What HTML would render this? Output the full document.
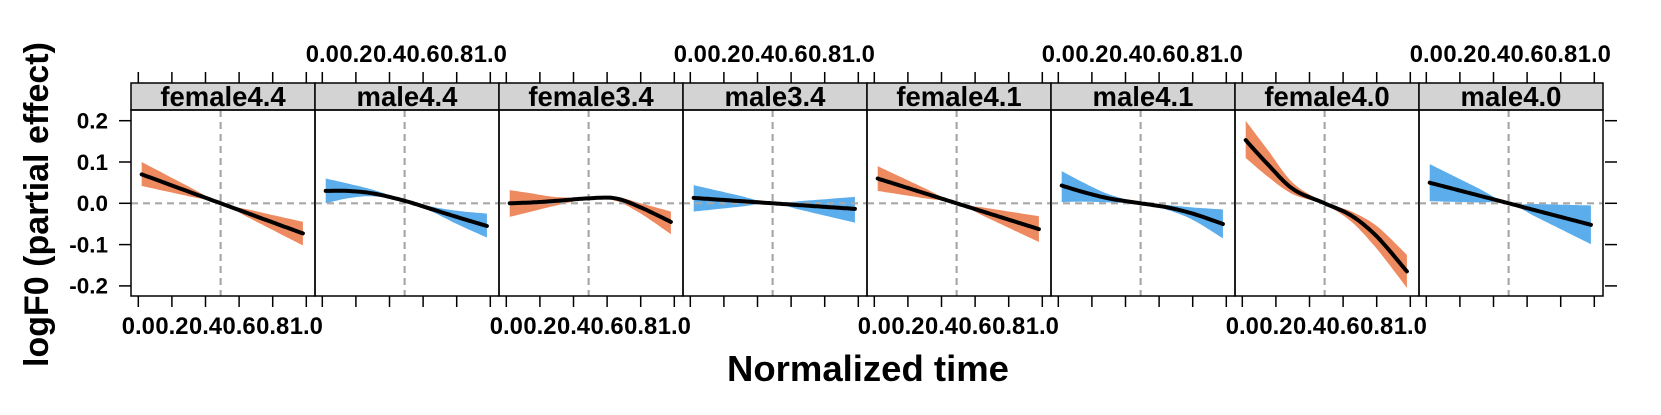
<!DOCTYPE html>
<html><head><meta charset="utf-8"><style>
html,body{margin:0;padding:0;background:#fff;}
svg{display:block;font-family:"Liberation Sans",sans-serif;font-weight:bold;}
</style></head><body>
<svg id="s" width="1661" height="415" viewBox="0 0 1661 415" xmlns="http://www.w3.org/2000/svg">
<g id="g"></g>
<text x="37" y="204.5" font-size="34" text-anchor="middle" dominant-baseline="central" transform="rotate(-90 37 204.5)">logF0 (partial effect)</text>
<text x="868" y="381" font-size="36.5" text-anchor="middle">Normalized time</text>
<g font-size="22.5" text-anchor="end">
<text x="108" y="128.5">0.2</text>
<text x="108" y="169.8">0.1</text>
<text x="108" y="211.1">0.0</text>
<text x="108" y="252.4">-0.1</text>
<text x="108" y="293.7">-0.2</text>
</g>
<g font-size="27.5" text-anchor="middle">
<text x="223" y="106">female4.4</text>
<text x="407" y="106">male4.4</text>
<text x="591" y="106">female3.4</text>
<text x="775" y="106">male3.4</text>
<text x="959" y="106">female4.1</text>
<text x="1143" y="106">male4.1</text>
<text x="1327" y="106">female4.0</text>
<text x="1511" y="106">male4.0</text>
</g>
<g id="lab" font-size="23.8" text-anchor="middle"></g>
</svg>
<script>
var NS="http://www.w3.org/2000/svg",g=document.getElementById('g'),lab=document.getElementById('lab');
function el(t,a,p){var e=document.createElementNS(NS,t);for(var k in a)e.setAttribute(k,a[k]);(p||g).appendChild(e);return e;}
var L=131,W=184,T=110,B=296,Z=203.3,S=413;
function Y(v){return Z-v*S;}
var OR="#EE8A60",BL="#5BADEB";
var TT=[0.02,0.15,0.3,0.49,0.65,0.8,0.98];
function lin(a,b){return TT.map(function(t){var u=(t-0.49)/0.47;return u<0?-u*a:u*b;});}
var P=[
 {c:OR,m:lin(0.07,-0.07),u:lin(0.1,-0.043),l:lin(0.042,-0.098)},
 {c:BL,m:[0.030,0.030,0.024,0.006,-0.014,-0.033,-0.055],u:[0.06,0.048,0.033,0.008,-0.008,-0.018,-0.025],l:[0.0,0.012,0.017,0.004,-0.02,-0.05,-0.083]},
 {c:OR,m:[0.0,0.002,0.006,0.012,0.012,-0.01,-0.045],u:[0.032,0.024,0.015,0.014,0.016,0.0,-0.02],l:[-0.033,-0.02,-0.005,0.01,0.006,-0.025,-0.075]},
 {c:BL,m:lin(0.013,-0.013),u:lin(0.044,0.015),l:lin(-0.02,-0.045)},
 {c:OR,m:lin(0.06,-0.06),u:lin(0.09,-0.03),l:lin(0.03,-0.09)},
 {c:BL,m:[0.043,0.027,0.012,0.0,-0.01,-0.025,-0.05],u:[0.078,0.05,0.022,0.002,-0.004,-0.01,-0.015],l:[0.003,0.004,0.002,-0.002,-0.016,-0.04,-0.085]},
 {c:OR,m:[0.153,0.095,0.035,0.0,-0.03,-0.08,-0.165],u:[0.2,0.13,0.05,0.003,-0.02,-0.055,-0.125],l:[0.11,0.065,0.022,-0.003,-0.045,-0.11,-0.205]},
 {c:BL,m:lin(0.05,-0.05),u:lin(0.095,-0.005),l:lin(0.005,-0.095)}
];
function interp(arr,t){
 var i=0;while(i<TT.length-2&&t>TT[i+1])i++;
 var t0=TT[i],t1=TT[i+1],s=(t-t0)/(t1-t0);
 var p0=arr[Math.max(i-1,0)],p1=arr[i],p2=arr[i+1],p3=arr[Math.min(i+2,arr.length-1)];
 var ta0=TT[Math.max(i-1,0)],ta3=TT[Math.min(i+2,TT.length-1)];
 var m1=(p2-p0)/(t1-ta0||1)*(t1-t0),m2=(p3-p1)/(ta3-t0||1)*(t1-t0);
 var h00=2*s*s*s-3*s*s+1,h10=s*s*s-2*s*s+s,h01=-2*s*s*s+3*s*s,h11=s*s*s-s*s;
 return h00*p1+h10*m1+h01*p2+h11*m2;
}
for(var k=0;k<8;k++){
 var x0=L+k*W,ox=x0+7.3,X=function(t){return ox+t*168;};
 var p=P[k],N=60,up=[],lo=[],mn=[];
 for(var j=0;j<=N;j++){var t=0.02+0.96*j/N;
  up.push(X(t).toFixed(1)+","+Y(interp(p.u,t)).toFixed(1));
  lo.push(X(t).toFixed(1)+","+Y(interp(p.l,t)).toFixed(1));
  mn.push(X(t).toFixed(1)+","+Y(interp(p.m,t)).toFixed(1));}
 el('polygon',{points:up.concat(lo.reverse()).join(" "),fill:p.c});
 el('line',{x1:X(0.49),x2:X(0.49),y1:T,y2:B,stroke:"#a8a8a8","stroke-width":2.2,"stroke-dasharray":"7,5"});
 el('line',{x1:x0,x2:x0+W,y1:Z,y2:Z,stroke:"#a8a8a8","stroke-width":2.2,"stroke-dasharray":"7,5"});
 el('polyline',{points:mn.join(" "),fill:"none",stroke:"#000","stroke-width":4,"stroke-linecap":"round","stroke-linejoin":"round"});
 el('rect',{x:x0,y:83,width:W,height:27,fill:"#d3d3d3",stroke:"#000","stroke-width":1.5});
 el('rect',{x:x0,y:T,width:W,height:B-T,fill:"none",stroke:"#000","stroke-width":1.5});
 for(var q=0;q<=5;q++){var tx=X(q*0.2);
  el('line',{x1:tx,x2:tx,y1:B,y2:307,stroke:"#000","stroke-width":1.5});
  el('line',{x1:tx,x2:tx,y1:83,y2:72,stroke:"#000","stroke-width":1.5});
  var tt=el('text',{x:tx,y:(k%2==0?334:62)},lab);tt.textContent=(q*0.2).toFixed(1);}
}
[0.2,0.1,0,-0.1,-0.2].forEach(function(v){
 el('line',{x1:119,x2:131,y1:Y(v),y2:Y(v),stroke:"#000","stroke-width":1.5});
 el('line',{x1:1605,x2:1617,y1:Y(v),y2:Y(v),stroke:"#000","stroke-width":1.5});
});
</script>
</body></html>
